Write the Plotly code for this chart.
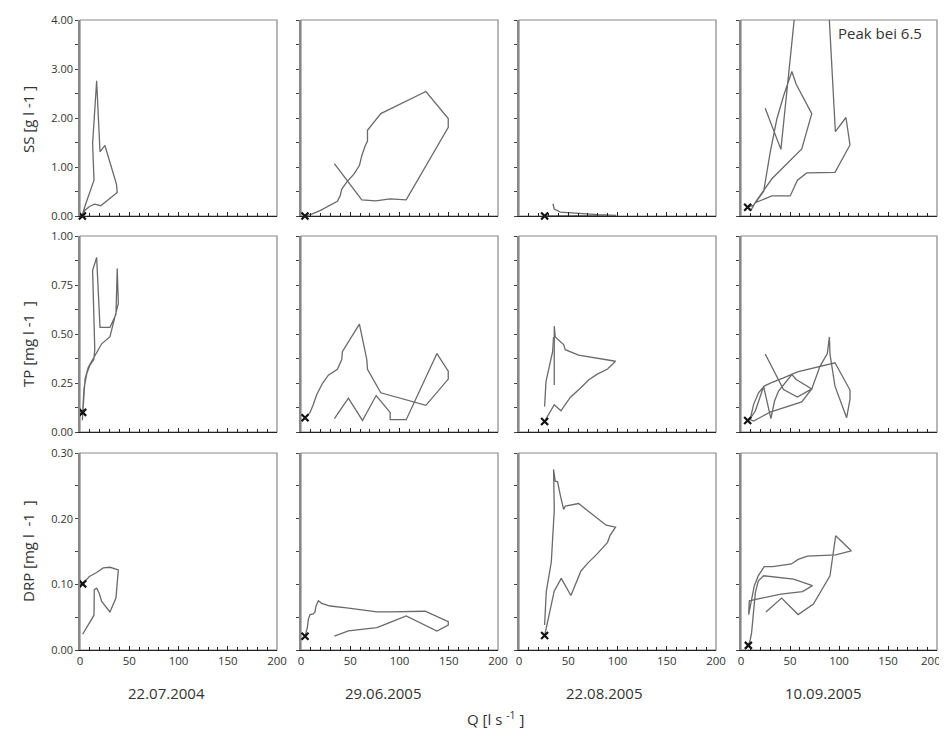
import plotly.graph_objects as go

# ---------------- data (Q in l/s, concentrations) ----------------
dates = ["22.07.2004", "29.06.2005", "22.08.2005", "10.09.2005"]
y_titles = ["SS [g l -1 ]", "TP [mg l -1  ]", "DRP [mg l  -1  ]"]
y_max = [4.0, 1.0, 0.30]
y_dtick = [1.0, 0.25, 0.10]
y_minor = [0.5, 0.125, 0.05]
x_ticks = [0, 50, 100, 150, 200]
x_labels = ["0", "50", "100", "150", "200"]

# SS
ss1_q = [2.4, 5, 10, 15, 21, 37.8, 37, 25.3, 20.3, 16.9, 12.8, 14.2, 5, 2.4]
ss1_c = [0.0, 0.12, 0.2, 0.24, 0.21, 0.48, 0.65, 1.44, 1.31, 2.76, 1.48, 0.73, 0.2, 0.02]
ss2_q = [4, 10.8, 19.3, 26.1, 31.2, 36.9, 39.7, 41.4, 46.4, 53.9, 59.3, 61.7, 65.1, 67.5, 67.5,
         74.2, 81.0, 126.8, 149.5, 149.5, 106.8, 90.5, 75.9, 61.7, 33.9]
ss2_c = [0.0, 0.04, 0.11, 0.18, 0.24, 0.30, 0.41, 0.55, 0.69, 0.86, 1.03, 1.23, 1.43, 1.53, 1.75,
         1.92, 2.09, 2.54, 1.99, 1.81, 0.33, 0.35, 0.31, 0.33, 1.07]
ss3_q = [26, 60, 98.6, 80, 65.5, 41.9, 35.8, 34.5]
ss3_c = [0.0, 0.01, 0.014, 0.03, 0.05, 0.08, 0.14, 0.25]
ss4_q = [6.8, 12.9, 23.1, 29.8, 36.6, 43.4, 51.9, 56.3, 72.2, 62.0, 31.5, 23.1, 14.6, 10.2,
         14.6, 31.5, 50.2, 57.6, 67.1, 95.9, 111.2, 107.1, 96.3, 83.4, 67.1, 40.7, 24.7]
ss4_c = [0.18, 0.22, 0.50, 1.30, 1.98, 2.45, 2.95, 2.69, 2.09, 1.37, 0.76, 0.52, 0.28, 0.12,
         0.27, 0.41, 0.41, 0.73, 0.88, 0.89, 1.45, 2.01, 1.72, 6.5, 6.5, 1.36, 2.20]

# TP
tp1_q = [2.7, 4, 7, 10, 14, 15, 12.8, 16.9, 20.3, 30.4, 36.5, 37.8, 38.9, 30.4, 22.0, 14.5, 8.4, 5.1, 2.4]
tp1_c = [0.10, 0.22, 0.30, 0.34, 0.37, 0.42, 0.825, 0.89, 0.534, 0.534, 0.60, 0.834, 0.656, 0.486,
         0.45, 0.385, 0.33, 0.27, 0.06]
tp2_q = [4.1, 9.2, 12.5, 15.9, 22.0, 27.8, 36.9, 41.4, 42.0, 59.3, 66.8, 67.5, 81.0, 126.8, 149.5,
         149.5, 138.0, 106.8, 90.5, 90.5, 76.3, 62.4, 48.1, 33.9]
tp2_c = [0.073, 0.10, 0.14, 0.19, 0.25, 0.29, 0.32, 0.37, 0.41, 0.55, 0.37, 0.32, 0.20, 0.136, 0.27,
         0.31, 0.40, 0.063, 0.063, 0.10, 0.186, 0.059, 0.173, 0.068]
tp3_q = [26.0, 35.8, 42.6, 52.0, 62.2, 70.6, 79.1, 89.9, 98.0, 88.5, 60.5, 47.0, 45.3, 36.8, 35.8, 35.8,
         None, 26.0, 27.4, 31.8, 34.1, 35.1]
tp3_c = [0.054, 0.139, 0.108, 0.176, 0.223, 0.265, 0.294, 0.321, 0.361, 0.368, 0.392, 0.42, 0.446,
         0.485, 0.54, 0.24, None, 0.13, 0.257, 0.358, 0.409, 0.485]
tp4_q = [6.8, 9.5, 12.9, 17.9, 23.7, 30.5, 43.4, 51.9, 57.6, 95.9, 111.2, 111.2, 107.8, 95.9, 90.8, 90.2,
         88.1, 80.7, 72.2, 62.0, 29.8, 12.9, 8.8, 14.6, 23.1, 30.5, 34.2, 38.3, 51.9, 56.3, 72.2,
         57.6, 43.4, 24.7]
tp4_c = [0.059, 0.068, 0.141, 0.20, 0.234, 0.251, 0.276, 0.293, 0.307, 0.353, 0.214, 0.166, 0.073,
         0.234, 0.398, 0.485, 0.400, 0.336, 0.22, 0.154, 0.102, 0.056, 0.064, 0.107, 0.232, 0.068,
         0.158, 0.209, 0.293, 0.268, 0.22, 0.178, 0.217, 0.398]

# DRP
drp1_q = [2.7, 9.5, 16.9, 23.6, 30.4, 38.9, 36.5, 30.4, 22.0, 19.6, 16.9, 14.5, 14.2, 2.7]
drp1_c = [0.1007, 0.112, 0.118, 0.125, 0.126, 0.122, 0.079, 0.058, 0.074, 0.086, 0.094, 0.092, 0.053, 0.024]
drp2_q = [4.1, 6.4, 7.5, 9.2, 12.5, 14.2, 15.3, 17.6, 21.0, 29.5, 46.4, 61.7, 77.0, 90.5, 126.1,
          149.5, 149.5, 138.0, 106.8, 90.5, 77.0, 48.1, 33.9]
drp2_c = [0.021, 0.034, 0.047, 0.054, 0.055, 0.058, 0.067, 0.075, 0.071, 0.067, 0.064, 0.061, 0.058,
          0.058, 0.059, 0.043, 0.038, 0.029, 0.052, 0.042, 0.034, 0.029, 0.021]
drp3_q = [26.0, 28.4, 35.8, 42.9, 52.7, 62.8, 69.6, 79.1, 89.9, 92.6, 98.0, 88.5, 60.5, 47.0, 45.3,
          41.9, 39.2, 36.8, 35.1, 35.8, 34.5, 32.8, 27.7, 26.0]
drp3_c = [0.022, 0.038, 0.090, 0.109, 0.083, 0.12, 0.132, 0.146, 0.164, 0.175, 0.187, 0.190, 0.223,
          0.219, 0.214, 0.236, 0.256, 0.257, 0.275, 0.213, 0.185, 0.134, 0.089, 0.038]
drp4_q = [7.5, 9.5, 10.8, 12.5, 14.6, 17.6, 23.1, 53.6, 72.9, 62.7, 40.7, 8.5, 7.8, 10.2, 13.6, 17.6,
          23.7, 32.2, 51.5, 58.3, 67.8, 96.6, 112.5, 96.6, 90.8, 73.9, 58.3, 41.4, 25.4]
drp4_c = [0.007, 0.016, 0.026, 0.052, 0.087, 0.105, 0.113, 0.108, 0.098, 0.089, 0.085, 0.075, 0.054,
          0.072, 0.098, 0.113, 0.127, 0.127, 0.131, 0.138, 0.143, 0.145, 0.151, 0.174, 0.113, 0.070,
          0.054, 0.079, 0.058]

series = [
    [(ss1_q, ss1_c), (ss2_q, ss2_c), (ss3_q, ss3_c), (ss4_q, ss4_c)],
    [(tp1_q, tp1_c), (tp2_q, tp2_c), (tp3_q, tp3_c), (tp4_q, tp4_c)],
    [(drp1_q, drp1_c), (drp2_q, drp2_c), (drp3_q, drp3_c), (drp4_q, drp4_c)],
]

# ---------------- layout geometry ----------------
OFF = 8                      # page body margin in the browser
W, H = 947 - OFF, 734 - OFF  # figure size so it fits the window
col_px = [(80, 277), (301, 498), (519, 716), (741, 937)]   # positions in the window
row_px = [(20, 216), (236, 432), (453, 650)]
FONT = "Open Sans"
LINE = "#6a6a6a"
XTICK_SIZE = 11.5


def fx(px):
    return (px - OFF) / W


def fy(py):
    return 1 - (py - OFF) / H


fig = go.Figure()
layout = dict(
    width=W, height=H, margin=dict(l=0, r=0, t=0, b=0, pad=0), autosize=False,
    paper_bgcolor="white", plot_bgcolor="white", showlegend=False,
    font=dict(family=FONT, size=11, color="#333"),
)
shapes = []
annotations = []

for r in range(3):
    for c in range(4):
        i = r * 4 + c + 1
        xs = "" if i == 1 else str(i)
        q, v = series[r][c]
        fig.add_trace(go.Scatter(x=q, y=v, mode="lines", line=dict(color=LINE, width=1.3),
                                 connectgaps=False, xaxis="x" + xs, yaxis="y" + xs,
                                 hoverinfo="skip"))
        fig.add_trace(go.Scatter(x=[q[0]], y=[v[0]], mode="markers", cliponaxis=False,
                                 marker=dict(symbol="x-thin", size=7, color="#111",
                                             line=dict(width=2.2, color="#111")),
                                 xaxis="x" + xs, yaxis="y" + xs, hoverinfo="skip"))
        x0, x1 = col_px[c]
        y0, y1 = row_px[r]
        # last column: its "200" label would run past the window edge, so it is drawn
        # slightly to the left as a separate text (as in the reference)
        labels = x_labels[:-1] + [""] if c == 3 else x_labels
        layout["xaxis" + xs] = dict(
            domain=[fx(x0), fx(x1)], range=[0, 200], anchor="y" + xs, automargin=False,
            tickvals=x_ticks, ticktext=labels, showticklabels=(r == 2), ticks="inside",
            ticklen=4, ticklabeloverflow="allow",
            tickcolor="#222", showline=True, linecolor="#222", linewidth=1,
            mirror=False, showgrid=False, zeroline=False,
            minor=dict(dtick=10, ticks="inside", ticklen=3, tickcolor="#222"),
            tickfont=dict(size=XTICK_SIZE, color="#333"),
        )
        layout["yaxis" + xs] = dict(
            domain=[fy(y1), fy(y0)], range=[0, y_max[r]], anchor="x" + xs,
            automargin=False, ticklabeloverflow="allow",
            dtick=y_dtick[r], tick0=0, tickformat=".2f", showticklabels=(c == 0),
            ticks="outside", ticklen=3, tickcolor="#444", showline=True, linecolor="#888",
            linewidth=1.5, mirror=False, showgrid=False, zeroline=False,
            minor=dict(dtick=y_minor[r], ticks="outside", ticklen=3, tickcolor="#444"),
            tickfont=dict(size=11, color="#333"),
        )
        shapes.append(dict(type="rect", xref="x" + xs + " domain", yref="y" + xs + " domain",
                           x0=0, x1=1, y0=0, y1=1, line=dict(color="#888", width=1.2),
                           layer="below"))


def ann(text, xpx, ypx, size, angle=0, xanchor="center"):
    return dict(text=text, x=fx(xpx), y=fy(ypx), xref="paper", yref="paper",
                xanchor=xanchor, yanchor="middle", showarrow=False, textangle=angle,
                font=dict(size=size, color="#333"))


for t, yc in zip(y_titles, [120, 344, 551]):
    annotations.append(ann(t, 28, yc, 15, -90))
for d, xc in zip(dates, [166, 383, 604, 823]):
    annotations.append(ann(d, xc, 693, 15))
annotations.append(ann("Q [l s <sup>-1</sup> ]", 495, 718, 15))
annotations.append(ann("Peak bei 6.5", 880, 33, 15))
annotations.append(ann(x_labels[-1], 943, 660, XTICK_SIZE, xanchor="right"))

layout["shapes"] = shapes
layout["annotations"] = annotations
fig.update_layout(**layout)
fig.write_html("out.html")
